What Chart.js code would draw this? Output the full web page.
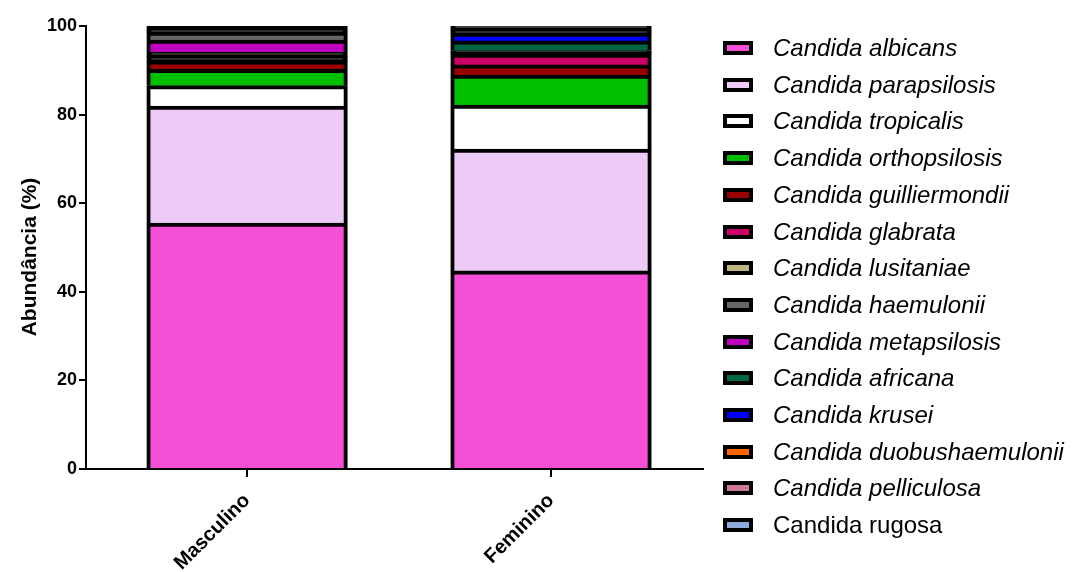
<!DOCTYPE html>
<html><head><meta charset="utf-8">
<script src="https://cdn.jsdelivr.net/npm/chart.js@4/dist/chart.umd.min.js"></script>
<style>html,body{margin:0;padding:0;background:#fff;overflow:hidden}#wrap{width:1075px;height:572px;position:relative}</style>
</head><body><div id="wrap"><canvas id="c"></canvas></div>
<script>
const categories = ['Masculino', 'Feminino'];
const species = ['Candida albicans','Candida parapsilosis','Candida tropicalis','Candida orthopsilosis','Candida guilliermondii','Candida glabrata','Candida lusitaniae','Candida haemulonii','Candida metapsilosis','Candida africana','Candida krusei','Candida duobushaemulonii','Candida pelliculosa','Candida rugosa'];
const italicName = [true,true,true,true,true,true,true,true,true,true,true,true,true,false];
const masculino = [55.5, 26.4, 4.6, 3.7, 1.9, 1.0, 1.0, 1.8, 2.7, 0.7, 0.7, 0, 0, 0];
const feminino  = [44.7, 27.5, 9.9, 6.8, 2.3, 2.4, 0.4, 0, 0.4, 2.2, 1.7, 0.6, 0.6, 0.5];
const colors = ['#F54FD7','#EECBF7','#FFFFFF','#00BF00','#990000','#CC0066','#BFB57F','#666666','#C000C0','#006644','#0000FF','#FF6600','#CC7799','#8FAADC'];
const stackOrder = [0,1,2,3,4,5,6,8,7,9,10,11,12,13];
const yTicks = [0, 20, 40, 60, 80, 100];
const yTitle = 'Abundância (%)';

const FONT = '"Liberation Sans", Arial, sans-serif';
Chart.defaults.font.family = FONT;
Chart.defaults.color = '#000';

const TINY = 1.2;
const seriesByCat = [masculino, feminino];
const datasets = species.map((name, i) => ({
  label: name,
  data: categories.map((c, j) => ({x: j, y: seriesByCat[j][i]})),
  backgroundColor: ctx => (ctx.raw && ctx.raw.y < TINY ? '#000' : colors[i]),
  borderColor: '#000',
  borderWidth: 4,
  borderSkipped: ctx => (ctx.raw && ctx.raw.y < TINY ? false : 'start'),
  inflateAmount: 0.5,
  order: stackOrder[i],
  categoryPercentage: 0.659,
  barPercentage: 1
}));

const legendPlugin = {
  id: 'sideLegend',
  afterDraw(chart) {
    const ctx = chart.ctx;
    ctx.save();
    species.forEach((name, i) => {
      const y = Math.round(48 + i * 36.7);
      ctx.fillStyle = '#000';
      ctx.fillRect(723, y - 7, 30, 14);
      ctx.fillStyle = colors[i];
      ctx.fillRect(727, y - 3, 22, 6);
      ctx.font = (italicName[i] ? 'italic ' : '') + '24px ' + FONT;
      ctx.fillStyle = '#000';
      ctx.textBaseline = 'middle';
      ctx.textAlign = 'left';
      ctx.fillText(name, 773, y + 1);
    });
    ctx.restore();
  }
};

const yTitlePlugin = {
  id: 'yTitle',
  afterDraw(chart) {
    const ctx = chart.ctx;
    ctx.save();
    ctx.translate(30, 257);
    ctx.rotate(-Math.PI / 2);
    ctx.font = 'bold 21px ' + FONT;
    ctx.fillStyle = '#000';
    ctx.textAlign = 'center';
    ctx.textBaseline = 'middle';
    ctx.fillText(yTitle, 0, 0);
    ctx.restore();
  }
};

new Chart(document.getElementById('c'), {
  type: 'bar',
  data: {datasets},
  plugins: [legendPlugin, yTitlePlugin],
  options: {
    responsive: true,
    maintainAspectRatio: false,
    animation: false,
    layout: {padding: {top: 26, right: 372, bottom: 0, left: 0}},
    plugins: {legend: {display: false}, tooltip: {enabled: false}},
    scales: {
      x: {
        type: 'linear', min: -0.53, max: 1.5, offset: false, stacked: true,
        afterBuildTicks: s => { s.ticks = categories.map((c, i) => ({value: i})); },
        ticks: {callback: v => categories[v], autoSkip: false, minRotation: 45, maxRotation: 45,
                font: {size: 20, weight: 'bold'}, color: '#000', padding: 12},
        grid: {display: true, offset: false, drawOnChartArea: false, drawTicks: true, tickLength: 8, color: '#000', lineWidth: 2},
        border: {display: true, color: '#000', width: 2},
        afterFit: s => { s.height = 103; }
      },
      y: {
        stacked: true, min: 0, max: 100,
        afterBuildTicks: s => { s.ticks = yTicks.map(v => ({value: v})); },
        ticks: {font: {size: 18, weight: 'bold'}, color: '#000', padding: 2},
        grid: {drawOnChartArea: false, drawTicks: true, tickLength: 7, color: '#000', lineWidth: 2},
        border: {display: true, color: '#000', width: 2},
        title: {display: false},
        afterFit: s => { s.width = 86; }
      }
    }
  }
});
</script>
</body></html>
